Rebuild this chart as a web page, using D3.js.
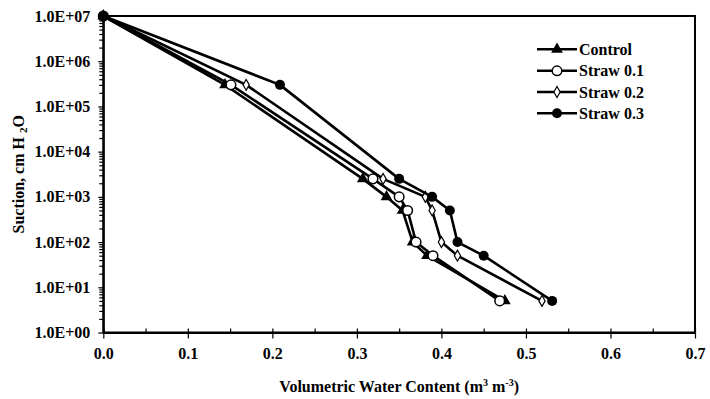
<!DOCTYPE html>
<html>
<head>
<meta charset="utf-8">
<script src="https://cdn.jsdelivr.net/npm/d3@7"></script>
<style>
  body { margin: 0; background: #fff; }
  svg text { font-family: "Liberation Serif", "Times New Roman", serif; font-weight: bold; fill: #000; }
</style>
</head>
<body>
<div id="chart"></div>
<script>
// suction levels (cm H2O) shared by all treatments
var suction = [10000000, 300000, 2500, 1000, 500, 100, 50, 5];

var series_names = ["Control", "Straw 0.1", "Straw 0.2", "Straw 0.3"];
var control   = [0, 0.144, 0.307, 0.335, 0.354, 0.366, 0.383, 0.475];
var straw_0_1 = [0, 0.151, 0.319, 0.350, 0.360, 0.370, 0.390, 0.469];
var straw_0_2 = [0, 0.169, 0.331, 0.381, 0.389, 0.400, 0.419, 0.519];
var straw_0_3 = [0, 0.209, 0.350, 0.389, 0.410, 0.419, 0.450, 0.531];

var x_ticks = [0, 0.1, 0.2, 0.3, 0.4, 0.5, 0.6, 0.7];
var y_ticks = [1, 10, 100, 1000, 10000, 100000, 1000000, 10000000];

var all_series = [control, straw_0_1, straw_0_2, straw_0_3].map(function(vals, i) {
  return {name: series_names[i], points: vals.map(function(v, j) { return {x: v, y: suction[j]}; })};
});

var W = 710, H = 399;
var margin = {top: 16, right: 15, bottom: 66.5, left: 103.3};

var svg = d3.select("#chart").append("svg")
            .attr("width", W)
            .attr("height", H);

var x = d3.scaleLinear().domain([0, 0.7]).range([margin.left, W - margin.right]);
var y = d3.scaleLog().domain([1, 10000000]).range([H - margin.bottom, margin.top]);

// minor ticks
var y_minor = [];
y_ticks.slice(0, -1).forEach(function(d) {
  for (var k = 2; k < 10; k++) y_minor.push(d * k);
});
var x_minor = d3.range(0.05, 0.7, 0.1);

// frame
svg.append("rect")
   .attr("x", x(0)).attr("y", y(10000000))
   .attr("width", x(0.7) - x(0)).attr("height", y(1) - y(10000000))
   .attr("fill", "none").attr("stroke", "#000").attr("stroke-width", 2);

// y axis
var axis_y = d3.axisLeft(y)
               .tickValues(y_ticks)
               .tickSizeInner(5).tickSizeOuter(0).tickPadding(8)
               .tickFormat(function(d) {
                 var e = Math.round(Math.log10(d));
                 return "1.0E+" + (e < 10 ? "0" : "") + e;
               });
var gy = svg.append("g").attr("transform", "translate(" + x(0) + ",0)").call(axis_y);
gy.selectAll("text").style("font-size", "16px");

svg.append("g").attr("transform", "translate(" + x(0) + ",0)")
   .call(d3.axisLeft(y).tickValues(y_minor).tickSizeInner(4).tickSizeOuter(0).tickFormat(""))
   .call(function(g) { g.select(".domain").remove(); });

// x axis
var axis_x = d3.axisBottom(x)
               .tickValues(x_ticks)
               .tickSizeInner(6).tickSizeOuter(0).tickPadding(9)
               .tickFormat(d3.format(".1f"));
var gx = svg.append("g").attr("transform", "translate(0," + y(1) + ")").call(axis_x);
gx.selectAll("text").style("font-size", "16px");

svg.append("g").attr("transform", "translate(0," + y(1) + ")")
   .call(d3.axisTop(x).tickValues(x_ticks.concat(x_minor)).tickSizeInner(4).tickSizeOuter(0).tickFormat(""))
   .call(function(g) { g.select(".domain").remove(); });

svg.selectAll(".domain").attr("stroke-width", 2);
svg.selectAll(".tick line").attr("stroke-width", 1.2);

// axis titles
var xt = svg.append("text")
            .attr("x", (x(0) + x(0.7)) / 2)
            .attr("y", 392)
            .attr("text-anchor", "middle")
            .style("font-size", "16px");
xt.append("tspan").text("Volumetric Water Content (m");
xt.append("tspan").attr("dy", -6).style("font-size", "10px").text("3");
xt.append("tspan").attr("dy", 6).text(" m");
xt.append("tspan").attr("dy", -6).style("font-size", "10px").text("-3");
xt.append("tspan").attr("dy", 6).text(")");

var yt = svg.append("text")
            .attr("transform", "translate(23.5," + ((y(1) + y(10000000)) / 2) + ") rotate(-90)")
            .attr("text-anchor", "middle")
            .style("font-size", "16px");
yt.append("tspan").text("Suction, cm  H ");
yt.append("tspan").style("font-size", "11px").attr("dy", 3).text("2");
yt.append("tspan").attr("dy", -3).text("O");

// lines
var line = d3.line().x(function(d) { return x(d.x); }).y(function(d) { return y(d.y); });

var tri = d3.symbol().type(d3.symbolTriangle).size(60);
var dia = d3.symbol().type(d3.symbolDiamond).size(34);

function drawMarker(g, i) {
  if (i == 0) {
    g.append("path").attr("d", tri()).attr("fill", "#000");
  } else if (i == 1) {
    g.append("circle").attr("r", 4.8).attr("fill", "#fff").attr("stroke", "#000").attr("stroke-width", 1.5);
  } else if (i == 2) {
    g.append("path").attr("d", dia()).attr("fill", "#fff").attr("stroke", "#000").attr("stroke-width", 1.2);
  } else {
    g.append("circle").attr("r", 5).attr("fill", "#000");
  }
}

all_series.forEach(function(s, i) {
  svg.append("path")
     .datum(s.points)
     .attr("d", line)
     .attr("fill", "none")
     .attr("stroke", "#000")
     .attr("stroke-width", 2.6)
     .attr("stroke-linejoin", "round");
  svg.append("g").selectAll("g")
     .data(s.points)
     .enter()
     .append("g")
     .attr("transform", function(d) { return "translate(" + x(d.x) + "," + y(d.y) + ")"; })
     .each(function() { drawMarker(d3.select(this), i); });
});

// legend
var legend_y = [49.3, 70.8, 92, 113.3];
all_series.forEach(function(s, i) {
  var lg = svg.append("g").attr("transform", "translate(537," + legend_y[i] + ")");
  lg.append("line").attr("x1", 0).attr("x2", 40).attr("stroke", "#000").attr("stroke-width", 2.6);
  drawMarker(lg.append("g").attr("transform", "translate(20,0)"), i);
  lg.append("text").attr("x", 42).attr("y", 5.5).style("font-size", "16px").text(s.name);
});
</script>
</body>
</html>
